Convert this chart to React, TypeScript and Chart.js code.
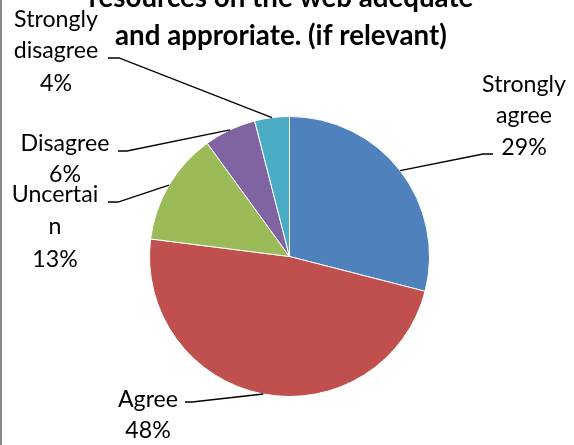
import React, { useEffect, useRef } from "react";
import { Chart, ArcElement, PieController } from "chart.js";

Chart.register(ArcElement, PieController);

const categories = ["Strongly agree", "Agree", "Uncertain", "Disagree", "Strongly disagree"];
const values = [29, 48, 13, 6, 4];
const colors = ["#4F81BD", "#C0504D", "#9BBB59", "#8064A2", "#4BACC6"];
const titleLines = ["resources on the web adequate", "and approriate. (if relevant)"];
const labelLines = [["Strongly", "agree"], ["Agree"], ["Uncertai", "n"], ["Disagree"], ["Strongly", "disagree"]];

// label placement (text centre x, baselines, leader line tail and elbow)
const labelLayout = [
  { cx: 524, baselines: [92, 123, 155], tail: [493, 154], elbow: [483, 154] },
  { cx: 148, baselines: [407, 438], tail: [185, 402], elbow: [192, 402] },
  { cx: 55, baselines: [202, 234, 267], tail: [108, 202], elbow: [118, 202] },
  { cx: 65, baselines: [151, 182], tail: [118, 151], elbow: [127, 151] },
  { cx: 56, baselines: [27, 58, 91], tail: [108, 58], elbow: [119, 58] },
];

const FAMILY = "Lato, 'Open Sans', sans-serif";

function fitSize(ctx: CanvasRenderingContext2D, text: string, target: number, weight: string) {
  ctx.font = `${weight} 100px ${FAMILY}`;
  const w = ctx.measureText(text).width;
  return (100 * target) / w;
}

const excelPlugin = {
  id: "excelPlugin",
  beforeDraw(chart: any) {
    const ctx = chart.ctx as CanvasRenderingContext2D;
    ctx.save();
    ctx.fillStyle = "#ffffff";
    ctx.fillRect(0, 0, chart.width, chart.height);
    ctx.fillStyle = "#8a8a8a";
    ctx.fillRect(0, 0, 2, chart.height);
    ctx.restore();
  },
  afterDraw(chart: any) {
    const ctx = chart.ctx as CanvasRenderingContext2D;
    const total = values.reduce((a, b) => a + b, 0);
    ctx.save();
    // title
    const tSize = fitSize(ctx, titleLines[1], 332, "bold");
    ctx.font = `bold ${tSize}px ${FAMILY}`;
    ctx.fillStyle = "#000";
    ctx.textAlign = "center";
    ctx.textBaseline = "alphabetic";
    ctx.fillText(titleLines[0], 281, 7);
    ctx.fillText(titleLines[1], 281, 45);

    // labels
    const lSize = fitSize(ctx, "Disagree", 89, "normal");
    const meta = chart.getDatasetMeta(0);
    meta.data.forEach((arc: any, i: number) => {
      const p = arc.getProps(["x", "y", "startAngle", "endAngle", "outerRadius"], true);
      const mid = (p.startAngle + p.endAngle) / 2;
      const ex = p.x + Math.cos(mid) * p.outerRadius;
      const ey = p.y + Math.sin(mid) * p.outerRadius;
      const L = labelLayout[i];
      ctx.strokeStyle = "#000";
      ctx.lineWidth = 1.3;
      ctx.beginPath();
      ctx.moveTo(L.tail[0], L.tail[1]);
      ctx.lineTo(L.elbow[0], L.elbow[1]);
      ctx.lineTo(ex, ey);
      ctx.stroke();

      const pct = Math.round((values[i] / total) * 100) + "%";
      const lines = [...labelLines[i], pct];
      ctx.font = `normal ${lSize}px ${FAMILY}`;
      ctx.fillStyle = "#000";
      ctx.textAlign = "center";
      lines.forEach((t, k) => ctx.fillText(t, L.cx, L.baselines[k]));
    });
    ctx.restore();
  },
};

export default function App() {
  const ref = useRef<HTMLCanvasElement | null>(null);
  useEffect(() => {
    if (!ref.current) return;
    const chart = new Chart(ref.current, {
      type: "pie",
      data: {
        labels: categories,
        datasets: [
          {
            data: values,
            backgroundColor: colors,
            borderColor: "#ffffff",
            borderWidth: 1,
          },
        ],
      },
      options: {
        responsive: false,
        animation: false,
        events: [],
        layout: { padding: { left: 149, right: 144, top: 116, bottom: 48 } },
        plugins: { legend: { display: false }, tooltip: { enabled: false } },
      },
      plugins: [excelPlugin],
    });
    return () => chart.destroy();
  }, []);
  return (
    <div style={{ position: "fixed", left: 0, top: 0, width: 574, height: 445, background: "#fff" }}>
      <canvas ref={ref} width={574} height={445} style={{ display: "block" }} />
    </div>
  );
}
